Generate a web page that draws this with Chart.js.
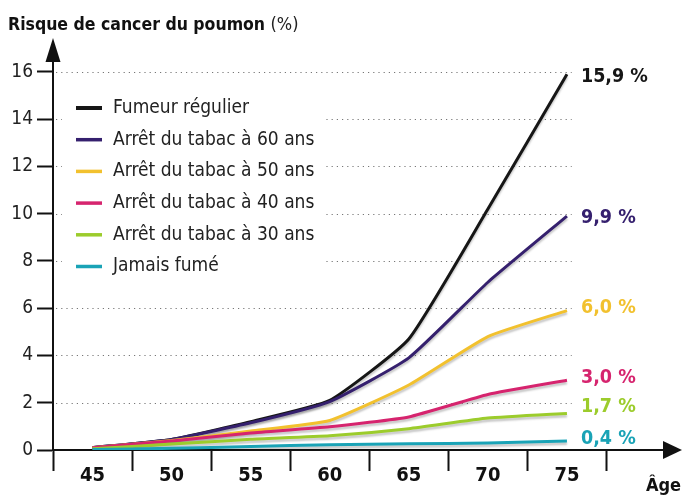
<!DOCTYPE html>
<html lang="fr">
<head>
<meta charset="UTF-8">
<title>Risque de cancer du poumon</title>
<script src="https://cdn.jsdelivr.net/npm/chart.js"></script>
<style>
  body { margin: 0; background: #fff; }
  .wrap { position: relative; width: 683px; height: 497px; }
</style>
</head>
<body>
<div class="wrap"><canvas id="chart"></canvas></div>
<script>
// ages (x) and risk in % (y)
const ages = [45, 50, 55, 60, 65, 70, 75];
const tickMarks = [42.5, 47.5, 52.5, 57.5, 62.5, 67.5, 72.5, 77.5];
const yTicks = [0, 2, 4, 6, 8, 10, 12, 14, 16];

const seriesNames = ['Fumeur régulier', 'Arrêt du tabac à 60 ans', 'Arrêt du tabac à 50 ans',
                     'Arrêt du tabac à 40 ans', 'Arrêt du tabac à 30 ans', 'Jamais fumé'];
const fumeur   = [0.1, 0.45, 1.2, 2.1, 4.7, 10.2, 15.9];
const arret60  = [0.1, 0.45, 1.15, 2.05, 3.9, 7.1, 9.9];
const arret50  = [0.1, 0.4, 0.8, 1.25, 2.75, 4.8, 5.9];
const arret40  = [0.1, 0.38, 0.72, 0.98, 1.4, 2.35, 2.95];
const arret30  = [0.05, 0.25, 0.45, 0.6, 0.9, 1.35, 1.55];
const jamais   = [0.02, 0.07, 0.15, 0.22, 0.26, 0.3, 0.38];
const endLabels = ['15,9 %', '9,9 %', '6,0 %', '3,0 %', '1,7 %', '0,4 %'];

const colors = ['#161616', '#35206e', '#f2c12e', '#d6246e', '#9ccc2c', '#1aa3b6'];
const labelNudge = [3, 2, -3, -2, -6, -2];
const FONT = '"Liberation Sans Narrow", "DejaVu Sans Condensed", "Open Sans", sans-serif';

const allSeries = [fumeur, arret60, arret50, arret40, arret30, jamais];

const datasets = allSeries.map((vals, i) => ({
  label: seriesNames[i],
  data: ages.map((a, j) => ({ x: a, y: vals[j] })),
  borderColor: colors[i],
  borderWidth: 3,
  pointRadius: 0,
  tension: 0.15,
  fill: false
})).reverse(); // draw black last (on top)

const decor = {
  id: 'decor',
  beforeDatasetsDraw(chart) {
    const { ctx, scales: { x, y } } = chart;
    ctx.save();
    // dotted gridlines
    ctx.strokeStyle = '#777';
    ctx.lineWidth = 1.2;
    ctx.setLineDash([1.2, 4]);
    yTicks.filter(v => v > 0).forEach(v => {
      const py = Math.round(y.getPixelForValue(v)) + 0.5;
      ctx.beginPath();
      ctx.moveTo(x.getPixelForValue(42.5) + 3, py);
      ctx.lineTo(x.getPixelForValue(75.3), py);
      ctx.stroke();
    });
    ctx.setLineDash([]);
    // legend
    ctx.fillStyle = '#fff';
    ctx.fillRect(62, 90, 262, 192);
    ctx.font = '19px ' + FONT;
    ctx.textBaseline = 'middle';
    seriesNames.forEach((name, i) => {
      const ly = 108 + i * 31.7;
      ctx.strokeStyle = colors[i];
      ctx.lineWidth = i === 0 ? 4 : 3.5;
      ctx.beginPath();
      ctx.moveTo(76, ly);
      ctx.lineTo(102, ly);
      ctx.stroke();
      ctx.fillStyle = '#222';
      ctx.fillText(name, 113, ly);
    });
    ctx.restore();
  },
  beforeDatasetDraw(chart) {
    const ctx = chart.ctx;
    ctx.save();
    ctx.shadowColor = 'rgba(0,0,0,0.22)';
    ctx.shadowOffsetY = 2.5;
    ctx.shadowBlur = 2;
  },
  afterDatasetDraw(chart) {
    chart.ctx.restore();
  },
  afterDraw(chart) {
    const { ctx, chartArea: ca, scales: { x, y } } = chart;
    ctx.save();
    ctx.fillStyle = '#111';
    // arrows
    const ax = x.getPixelForValue(42.5);
    ctx.beginPath();
    ctx.moveTo(ax, 38);
    ctx.lineTo(ax - 7.5, ca.top + 12);
    ctx.lineTo(ax + 7.5, ca.top + 12);
    ctx.closePath();
    ctx.fill();
    const ay = y.getPixelForValue(0);
    ctx.beginPath();
    ctx.moveTo(682, ay);
    ctx.lineTo(ca.right - 2, ay - 9);
    ctx.lineTo(ca.right - 2, ay + 9);
    ctx.closePath();
    ctx.fill();
    // title
    ctx.textBaseline = 'alphabetic';
    ctx.font = 'bold 17.5px ' + FONT;
    const t1 = 'Risque de cancer du poumon ';
    ctx.fillText(t1, 8, 30);
    const w = ctx.measureText(t1).width;
    ctx.font = '18px ' + FONT;
    ctx.fillStyle = '#222';
    ctx.fillText('(%)', 8 + w, 30);
    // end labels
    ctx.font = 'bold 19.5px ' + FONT;
    ctx.textBaseline = 'middle';
    allSeries.forEach((vals, i) => {
      const px = x.getPixelForValue(ages[ages.length - 1]);
      const py = y.getPixelForValue(vals[vals.length - 1]);
      ctx.fillStyle = colors[i];
      ctx.fillText(endLabels[i], px + 14, py + labelNudge[i]);
    });
    // axis title
    ctx.fillStyle = '#111';
    ctx.font = 'bold 18px ' + FONT;
    ctx.textAlign = 'right';
    ctx.fillText('Âge', 681, 486);
    ctx.restore();
  }
};

new Chart(document.getElementById('chart'), {
  type: 'line',
  data: { datasets },
  options: {
    responsive: true,
    maintainAspectRatio: false,
    animation: false,
    layout: { padding: { top: 50, right: 18, left: 0, bottom: 0 } },
    plugins: { legend: { display: false }, tooltip: { enabled: false } },
    scales: {
      x: {
        type: 'linear',
        min: 42.5,
        max: 81.2,
        afterFit: s => { s.height = 47; },
        afterBuildTicks: s => {
          s.ticks = tickMarks.concat(ages).sort((a, b) => a - b).map(v => ({ value: v }));
        },
        border: { display: true, color: '#111', width: 2 },
        grid: {
          drawOnChartArea: false,
          tickLength: 21,
          tickWidth: 2,
          tickColor: c => (c.tick && c.tick.value % 5 === 0) ? 'rgba(0,0,0,0)' : '#111'
        },
        ticks: {
          autoSkip: false,
          maxRotation: 0,
          minRotation: 0,
          padding: -7,
          color: '#111',
          font: { family: FONT, size: 20, weight: 'bold' },
          callback: v => ages.includes(v) ? String(v) : ''
        }
      },
      y: {
        min: 0,
        max: 16.93,
        afterFit: s => { s.width = 53; },
        afterBuildTicks: s => { s.ticks = yTicks.map(v => ({ value: v })); },
        border: { display: true, color: '#111', width: 2 },
        grid: { drawOnChartArea: false, tickLength: 16, tickWidth: 2, tickColor: '#111' },
        ticks: {
          padding: 4,
          color: '#222',
          font: { family: FONT, size: 19 }
        }
      }
    }
  },
  plugins: [decor]
});
</script>
</body>
</html>
